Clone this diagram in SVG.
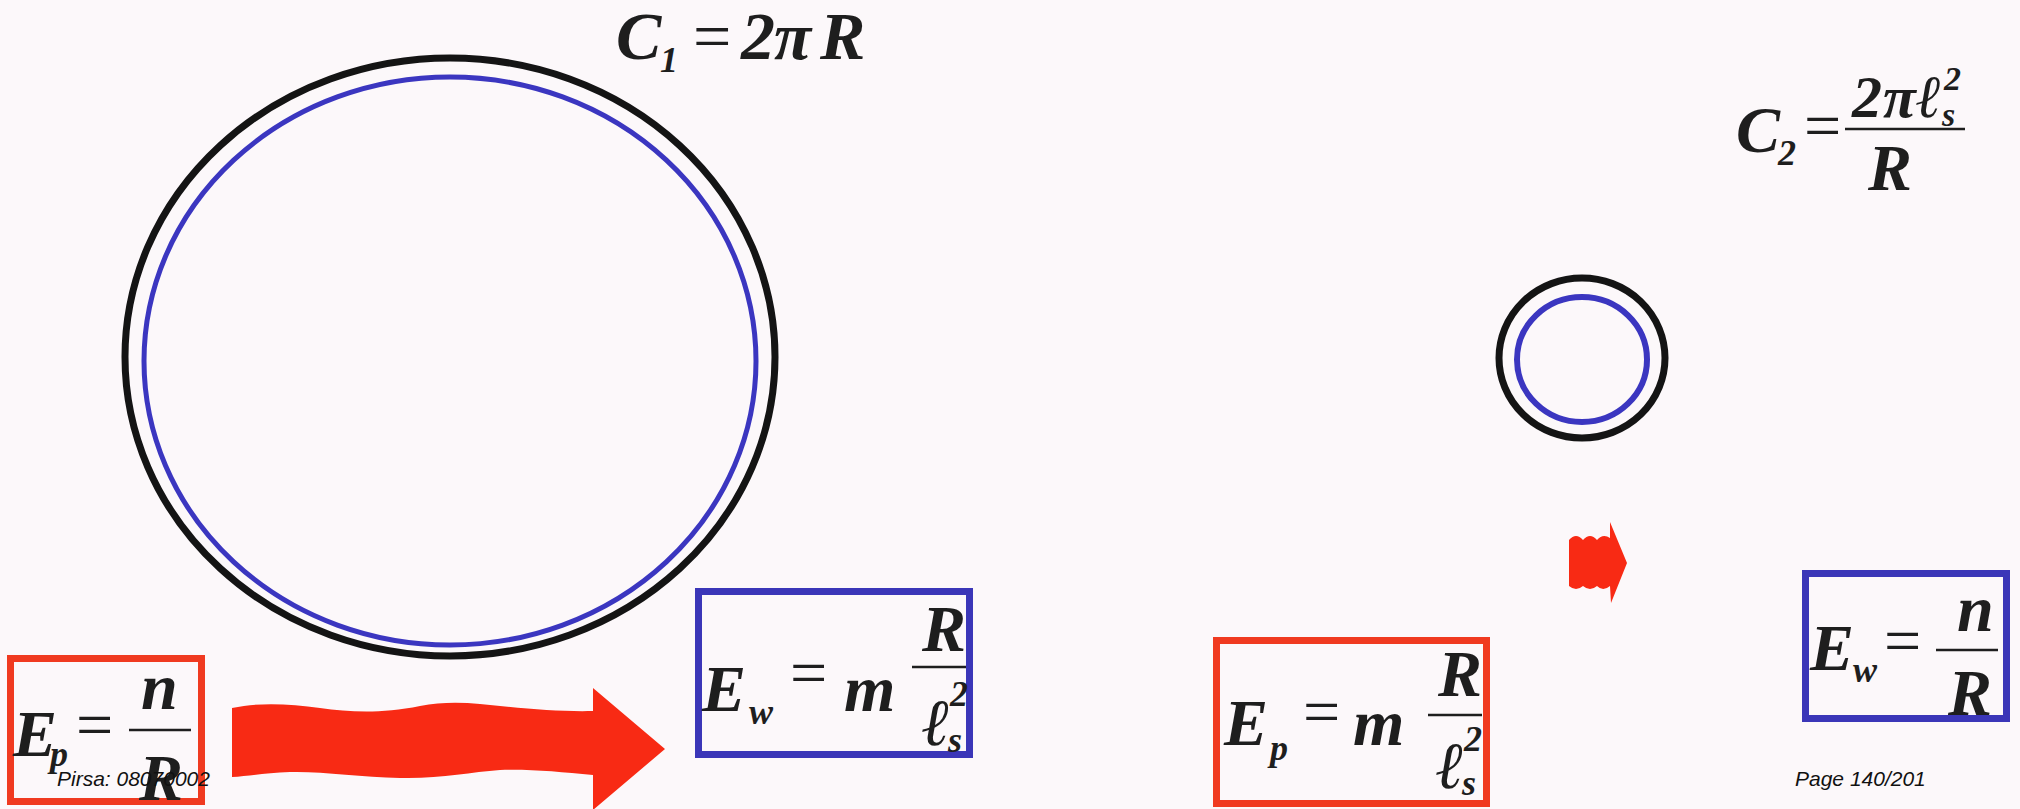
<svg xmlns="http://www.w3.org/2000/svg" width="2020" height="809" viewBox="0 0 2020 809">
<style>
.v{font-family:"Liberation Serif","Times New Roman",serif;font-style:italic;font-weight:bold;fill:#1e1e1e}
.u{font-family:"Liberation Serif","Times New Roman",serif;fill:#1e1e1e}
.bar{stroke:#1e1e1e;stroke-width:2.5}
.big{font-size:68px}
.mid{font-size:66px}
.sub{font-size:36px}
.rbox{fill:none;stroke:#f03a20;stroke-width:7}
.bbox{fill:none;stroke:#3b36b8;stroke-width:7}
.blk{fill:none;stroke:#141414}
.blu{fill:none;stroke:#3b36c0}
.arrow{fill:#f82a14}
.foot{font-family:"Liberation Sans",Arial,sans-serif;font-style:italic;font-size:21px;fill:#111}
</style>
<rect width="2020" height="809" fill="#fcf8fa"/>

<g id="formula-c1">
<text class="v big" x="616" y="59">C</text>
<text class="v sub" x="660" y="72" font-size="38">1</text>
<text class="u big" x="693" y="59">=</text>
<text class="v big" x="741" y="59">2</text>
<text class="v big" x="774" y="59">π</text>
<text class="v big" x="820" y="59">R</text>
</g>

<g id="formula-c2">
<text class="v mid" x="1736" y="152">C</text>
<text class="v sub" x="1778" y="165">2</text>
<text class="u mid" x="1804" y="148">=</text>
<text class="v" font-size="60" x="1852" y="117">2</text>
<text class="v" font-size="60" x="1883" y="117">π</text>
<text class="v" font-size="60" x="1916" y="117">ℓ</text>
<text class="v" font-size="34" x="1944" y="90">2</text>
<text class="v" font-size="34" x="1942" y="126">s</text>
<line class="bar" x1="1845" y1="129" x2="1965" y2="129"/>
<text class="v mid" x="1868" y="190">R</text>
</g>

<g id="ring-large">
<ellipse class="blk" cx="450" cy="357" rx="325" ry="299" stroke-width="7"/>
<ellipse class="blu" cx="450" cy="361" rx="306" ry="284" stroke-width="5"/>
</g>

<g id="ring-small">
<ellipse class="blk" cx="1582" cy="358" rx="83" ry="80" stroke-width="7"/>
<ellipse class="blu" cx="1582" cy="359.5" rx="65" ry="62.5" stroke-width="6"/>
</g>

<g id="box-ep-left">
<rect class="rbox" x="10.5" y="658.5" width="191" height="143"/>
<text class="v mid" x="13" y="756">E</text>
<text class="v sub" x="50" y="766">p</text>
<text class="u mid" x="76" y="747">=</text>
<text class="v mid" x="141" y="709">n</text>
<line class="bar" x1="129" y1="730" x2="191" y2="730"/>
<text class="v mid" x="139" y="800">R</text>
</g>

<g id="box-ew-left">
<rect class="bbox" x="698.5" y="591.5" width="271" height="163"/>
<text class="v mid" x="702" y="711">E</text>
<text class="v sub" x="749" y="724">w</text>
<text class="u mid" x="790" y="695">=</text>
<text class="v mid" x="844" y="711">m</text>
<text class="v mid" x="922" y="651">R</text>
<line class="bar" x1="912" y1="667" x2="966" y2="667"/>
<text class="v mid" x="922" y="745">ℓ</text>
<text class="v sub" x="950" y="706">2</text>
<text class="v sub" x="948" y="752">s</text>
</g>

<g id="box-ep-right">
<rect class="rbox" x="1216.5" y="640.5" width="270" height="163"/>
<text class="v mid" x="1224" y="745">E</text>
<text class="v sub" x="1270" y="760">p</text>
<text class="u mid" x="1303" y="734">=</text>
<text class="v mid" x="1353" y="745">m</text>
<text class="v mid" x="1438" y="696">R</text>
<line class="bar" x1="1428" y1="715" x2="1482" y2="715"/>
<text class="v mid" x="1436" y="788">ℓ</text>
<text class="v sub" x="1464" y="751">2</text>
<text class="v sub" x="1462" y="795">s</text>
</g>

<g id="box-ew-right">
<rect class="bbox" x="1805.5" y="573.5" width="201" height="145"/>
<text class="v mid" x="1810" y="670">E</text>
<text class="v sub" x="1853" y="682">w</text>
<text class="u mid" x="1884" y="663">=</text>
<text class="v mid" x="1957" y="631">n</text>
<line class="bar" x1="1936" y1="650" x2="1998" y2="650"/>
<text class="v mid" x="1948" y="715">R</text>
</g>

<g id="connectors">
<path class="arrow" d="M232,708 C260,702 290,704 320,708 C350,712 380,714 420,706 C440,702 460,702 480,704 C520,708 560,712 593,711 L593,688 L665,749 L593,810 L593,775 C560,772 530,769 500,770 C470,772 440,779 400,778 C360,777 320,771 290,772 C265,773 248,776 232,777 Z"/>
<path class="arrow" d="M1569,540 Q1576,532 1583,540 Q1590,532 1597,540 Q1603,533 1610,538 L1610,522 L1627,563 L1611,603 L1610,586 Q1603,592 1597,586 Q1590,592 1583,586 Q1576,592 1569,586 Z"/>
</g>

<g id="footer">
<text class="foot" x="57" y="786">Pirsa: 08070002</text>
<text class="foot" x="1795" y="786">Page 140/201</text>
</g>
</svg>
